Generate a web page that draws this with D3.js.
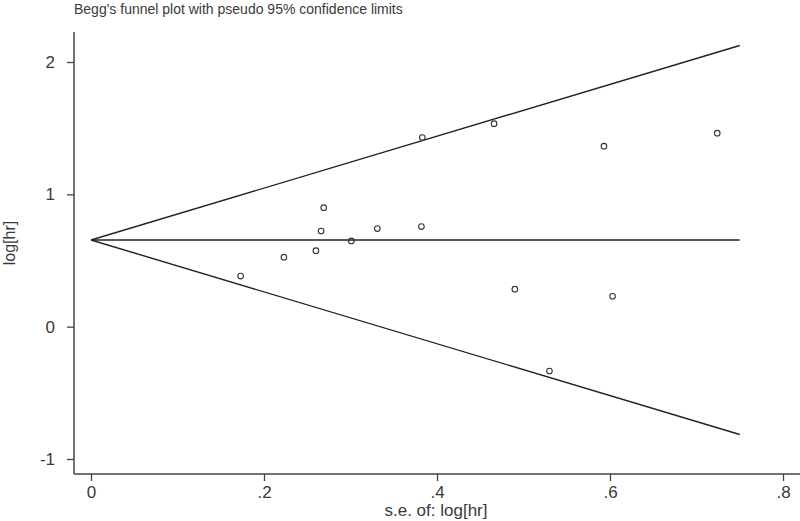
<!DOCTYPE html>
<html>
<head>
<meta charset="utf-8">
<script src="https://cdn.jsdelivr.net/npm/d3@7"></script>
<style>
  html, body { margin: 0; padding: 0; background: #fff; }
  svg { display: block; }
  text { font-family: "Liberation Sans", Arial, sans-serif; fill: #3a3a3a; }
</style>
</head>
<body>
<svg id="chart" width="800" height="521"></svg>
<script>
// ---- data ----
const seValues  = [0.173, 0.223, 0.260, 0.266, 0.269, 0.301, 0.331, 0.382, 0.383, 0.466, 0.490, 0.530, 0.593, 0.603, 0.724];
const logHr     = [0.382, 0.525, 0.574, 0.723, 0.899, 0.648, 0.741, 0.756, 1.429, 1.534, 0.283, -0.335, 1.364, 0.230, 1.462];
const pooled    = 0.655;
const seMax     = 0.75;
const xTicks    = [0, 0.2, 0.4, 0.6, 0.8];
const yTicks    = [-1, 0, 1, 2];
const titleText = "Begg's funnel plot with pseudo 95% confidence limits";
const xLabel    = "s.e. of: log[hr]";
const yLabel    = "log[hr]";

// ---- layout ----
const svg = d3.select("#chart");
const x = d3.scaleLinear().domain([0, 0.8]).range([91, 783]);
const y = d3.scaleLinear().domain([-1, 2]).range([459, 62]);
const axisX0 = 74, axisY0 = 474, axisTop = 32, axisRight = 800;
const fmt = d => d === 0 ? "0" : String(d).replace(/^(-?)0\./, "$1.");
const narrow = "'Liberation Sans Narrow','Liberation Sans',Arial,sans-serif";

// title
svg.append("text")
  .attr("x", 74).attr("y", 14)
  .attr("font-size", 14)
  .text(titleText);

// axes
const gx = svg.append("g").attr("transform", `translate(0,${axisY0})`)
  .call(d3.axisBottom(x).tickValues(xTicks).tickFormat(fmt).tickSize(7).tickSizeOuter(0).tickPadding(5));
gx.select(".domain").remove();
gx.selectAll(".tick line").attr("stroke", "#444").attr("stroke-width", 1.3);
gx.selectAll(".tick text").attr("font-size", 17).attr("fill", "#3a3a3a").style("font-family", narrow);

const gy = svg.append("g").attr("transform", `translate(${axisX0},0)`)
  .call(d3.axisLeft(y).tickValues(yTicks).tickFormat(fmt).tickSize(7).tickSizeOuter(0).tickPadding(12));
gy.select(".domain").remove();
gy.selectAll(".tick line").attr("stroke", "#444").attr("stroke-width", 1.3);
gy.selectAll(".tick text").attr("font-size", 17).attr("fill", "#3a3a3a").style("font-family", narrow);

// axis lines
svg.append("line").attr("x1", axisX0).attr("x2", axisX0).attr("y1", axisTop).attr("y2", axisY0)
  .attr("stroke", "#444").attr("stroke-width", 1.5);
svg.append("line").attr("x1", axisX0).attr("x2", axisRight).attr("y1", axisY0).attr("y2", axisY0)
  .attr("stroke", "#444").attr("stroke-width", 1.5);

// axis titles
svg.append("text")
  .attr("x", 436).attr("y", 516)
  .attr("text-anchor", "middle")
  .attr("font-size", 17)
  .style("font-family", narrow)
  .text(xLabel);
svg.append("text")
  .attr("transform", `translate(15,243) rotate(-90)`)
  .attr("text-anchor", "middle")
  .attr("font-size", 16)
  .style("font-family", narrow)
  .text(yLabel);

// funnel lines
const lines = [
  [[0, pooled], [seMax, pooled]],
  [[0, pooled], [seMax, pooled + 1.96 * seMax]],
  [[0, pooled], [seMax, pooled - 1.96 * seMax]]
];
const lineGen = d3.line().x(d => x(d[0])).y(d => y(d[1]));
svg.append("g").selectAll("path").data(lines).join("path")
  .attr("d", lineGen)
  .attr("fill", "none").attr("stroke", "#222").attr("stroke-width", 1.4);

// points
const pts = seValues.map((s, i) => ({ se: s, v: logHr[i] }));
svg.append("g").selectAll("circle").data(pts).join("circle")
  .attr("cx", d => x(d.se)).attr("cy", d => y(d.v))
  .attr("r", 2.8)
  .attr("fill", "none").attr("stroke", "#333").attr("stroke-width", 1.1);
</script>
</body>
</html>
